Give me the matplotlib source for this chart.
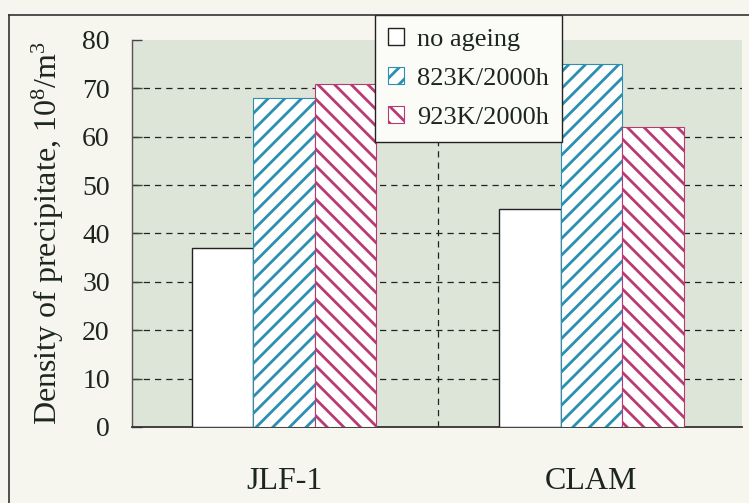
import matplotlib
matplotlib.use("Agg")
import matplotlib.pyplot as plt
import numpy as np
from matplotlib.lines import Line2D

categories = ["JLF-1", "CLAM"]
series_names = ["no ageing", "823K/2000h", "923K/2000h"]
no_ageing = [37, 45]
k823 = [68, 75]
k923 = [71, 62]
yticks = [0, 10, 20, 30, 40, 50, 60, 70, 80]

plt.rcParams['font.family'] = ['Liberation Serif', 'DejaVu Serif']
plt.rcParams['mathtext.fontset'] = 'custom'
plt.rcParams['mathtext.rm'] = 'Liberation Serif'
plt.rcParams['mathtext.it'] = 'Liberation Serif:italic'
plt.rcParams['hatch.linewidth'] = 2.0

paper = '#f6f5ee'
green = '#dde4d8'
txt = '#1c261e'
blue = '#2a8fb0'
mag = '#b83a72'

fig = plt.figure(figsize=(7.49, 5.03), dpi=100, facecolor=paper)
ax = fig.add_axes([132/749, 1-427/503, (742-132)/749, (427-40)/503])
ax.set_facecolor(green)

x = np.arange(len(categories))
w = 0.2
ax.bar(x - w, no_ageing, w, color='white', edgecolor='#222222', linewidth=1.0,
       label=series_names[0], zorder=3)
ax.bar(x, k823, w, color='white', edgecolor=blue, hatch='//', linewidth=0.8,
       label=series_names[1], zorder=3)
ax.bar(x + w, k923, w, color='white', edgecolor=mag, hatch='\\\\', linewidth=0.8,
       label=series_names[2], zorder=3)

ax.set_xlim(-0.495, 1.49)
ax.set_ylim(0, 80)
ax.set_yticks(yticks)
ax.set_xticks(x)
ax.set_xticklabels(categories, fontsize=23, color=txt)
ax.tick_params(axis='x', length=0, pad=29)
ax.tick_params(axis='y', direction='in', length=7, width=1, color='#444444',
               labelsize=20, labelcolor=txt, pad=16)

for yv in yticks[1:-1]:
    ax.axhline(yv, color='#222222', linestyle=(0, (5, 4)), linewidth=0.9, zorder=1)
ax.axvline(0.5, color='#222222', linestyle=(0, (5, 4)), linewidth=0.9, zorder=1)

for s in ['top', 'right']:
    ax.spines[s].set_visible(False)
ax.spines['left'].set_color('#555555')
ax.spines['left'].set_linewidth(1.0)
ax.spines['bottom'].set_color('#333333')
ax.spines['bottom'].set_linewidth(1.3)

ax.set_ylabel('Density of precipitate, 10$^{8}$/m$^{3}$', fontsize=23, color=txt)
ax.yaxis.set_label_coords(-0.108, 0.5)

leg = ax.legend(loc='upper left', bbox_to_anchor=(375/749, 1-15/503),
                bbox_transform=fig.transFigure, fontsize=19, frameon=True,
                fancybox=False, framealpha=1, edgecolor='#222222',
                handlelength=0.6, handleheight=0.6, handletextpad=0.5,
                labelspacing=0.62, borderpad=0.5, borderaxespad=0)
leg.get_frame().set_linewidth(1.0)
leg.get_frame().set_facecolor('#fbfbf7')
leg.set_zorder(5)
for t in leg.get_texts():
    t.set_color(txt)

fig.add_artist(Line2D([9/749, 9/749], [1-15/503, 0], color='#333333', linewidth=1.2,
                      transform=fig.transFigure))
fig.add_artist(Line2D([9/749, 1], [1-15/503, 1-15/503], color='#333333', linewidth=1.2,
                      transform=fig.transFigure))

fig.savefig('out.png', dpi=100, facecolor=paper)
